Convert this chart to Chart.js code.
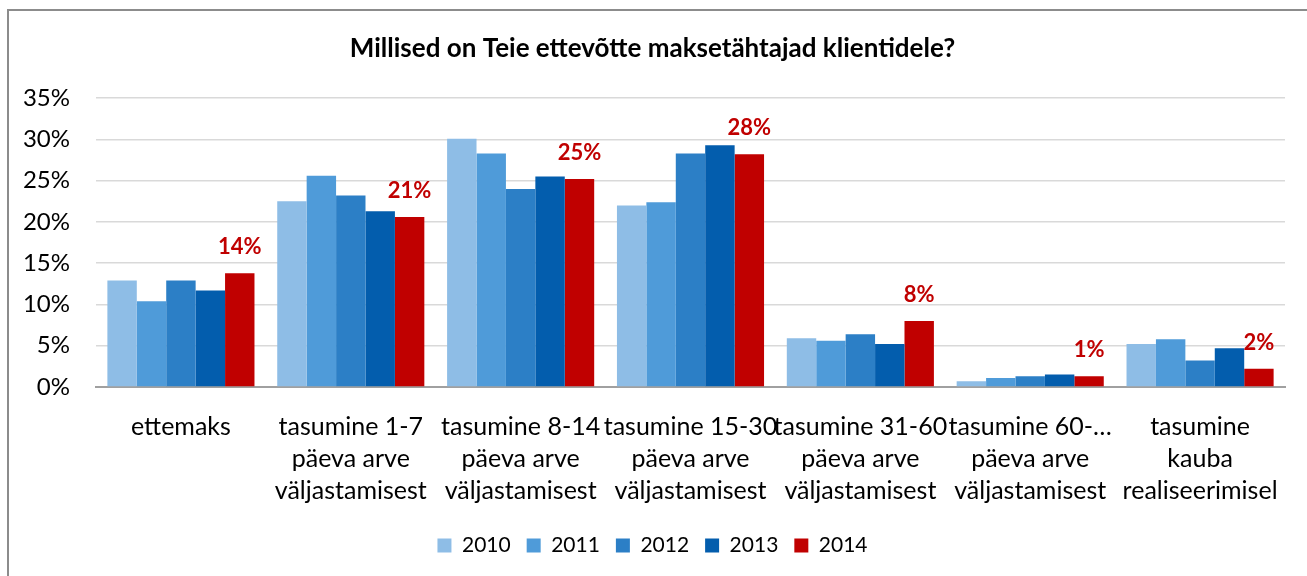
<!DOCTYPE html>
<html>
<head>
<meta charset="utf-8">
<script src="https://cdn.jsdelivr.net/npm/chart.js@4/dist/chart.umd.min.js"></script>
<style>
    body { margin: 0; background: #fff; }
    #wrap { position: relative; width: 1307px; height: 576px; overflow: hidden; }
    #frame {
        position: absolute; left: 7px; top: 9px; width: 1400px; height: 700px;
        border-left: 2px solid #8c8c8c; border-top: 2px solid #8c8c8c;
        pointer-events: none;
    }
    canvas { position: absolute; left: 0; top: 0; }
</style>
</head>
<body>
<div id="wrap">
    <canvas id="chart" width="1307" height="576"></canvas>
    <div id="frame"></div>
</div>
<script>
// Kategooriad ja väärtused (%)
const categories = [
    ['ettemaks'],
    ['tasumine 1-7', 'päeva arve', 'väljastamisest'],
    ['tasumine 8-14', 'päeva arve', 'väljastamisest'],
    ['tasumine 15-30', 'päeva arve', 'väljastamisest'],
    ['tasumine 31-60', 'päeva arve', 'väljastamisest'],
    ['tasumine 60-…', 'päeva arve', 'väljastamisest'],
    ['tasumine', 'kauba', 'realiseerimisel']
];
const years = ['2010', '2011', '2012', '2013', '2014'];

const v2010 = [12.9, 22.5, 30.1, 22.0, 5.9, 0.7, 5.2];
const v2011 = [10.4, 25.6, 28.3, 22.4, 5.6, 1.1, 5.8];
const v2012 = [12.9, 23.2, 24.0, 28.3, 6.4, 1.3, 3.2];
const v2013 = [11.7, 21.3, 25.5, 29.3, 5.2, 1.5, 4.7];
const v2014 = [13.8, 20.6, 25.2, 28.2, 8.0, 1.3, 2.2];

const colors = ['#8ebde6', '#4f9bd9', '#2c7fc6', '#035dad', '#c00000'];
const FONT = 'Lato, Carlito, Calibri, sans-serif';

// Väärtuste sildid ainult 2014 tulpadele
const lastYearLabels = {
    id: 'lastYearLabels',
    afterDatasetsDraw(chart) {
        const meta = chart.getDatasetMeta(4);
        const ctx = chart.ctx;
        ctx.save();
        ctx.font = 'bold 22px ' + FONT;
        ctx.fillStyle = '#c00000';
        ctx.textAlign = 'center';
        ctx.textBaseline = 'alphabetic';
        meta.data.forEach((bar, i) => {
            ctx.fillText(Math.round(v2014[i]) + '%', bar.x, bar.y - 19);
        });
        ctx.restore();
    }
};

const series = [v2010, v2011, v2012, v2013, v2014];

new Chart(document.getElementById('chart'), {
    type: 'bar',
    data: {
        labels: categories,
        datasets: series.map((vals, i) => ({
            label: years[i],
            data: vals,
            backgroundColor: colors[i],
            borderWidth: 0,
            categoryPercentage: 0.866,
            barPercentage: 1.0
        }))
    },
    options: {
        responsive: false,
        animation: false,
        layout: { padding: { left: 20, right: 22, top: 0, bottom: 10 } },
        plugins: {
            title: {
                display: true,
                text: 'Millised on Teie ettevõtte maksetähtajad klientidele?',
                color: '#000',
                font: { family: FONT, size: 26, weight: 'bold', lineHeight: 1.2 },
                padding: { top: 33, bottom: 34 }
            },
            legend: {
                position: 'bottom',
                labels: {
                    color: '#000',
                    font: { family: FONT, size: 21 },
                    boxWidth: 14,
                    boxHeight: 14,
                    padding: 16
                }
            },
            tooltip: { enabled: false }
        },
        scales: {
            x: {
                grid: { display: false },
                border: { display: true, color: '#a0a0a0', width: 2 },
                ticks: {
                    color: '#000',
                    font: { family: FONT, size: 25, lineHeight: 1.28 },
                    autoSkip: false,
                    maxRotation: 0,
                    minRotation: 0,
                    padding: 16
                },
                afterFit(scale) { scale.height = 132; }
            },
            y: {
                min: 0,
                max: 35,
                grid: { color: '#d9d9d9', lineWidth: 1.5, drawTicks: false },
                border: { display: false },
                ticks: {
                    stepSize: 5,
                    color: '#000',
                    font: { family: FONT, size: 24 },
                    padding: 26,
                    callback: v => v + '%'
                },
                afterFit(scale) { scale.width = 76; }
            }
        }
    },
    plugins: [lastYearLabels]
});
</script>
</body>
</html>
